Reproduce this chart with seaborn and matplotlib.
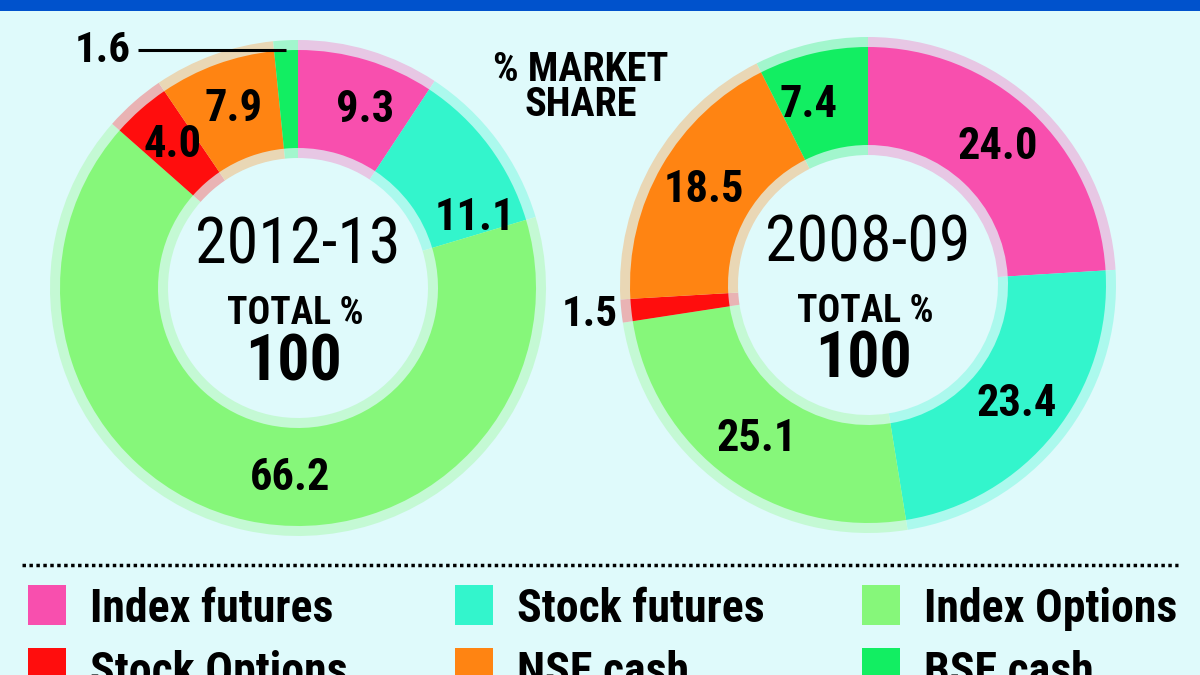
import numpy as np
import matplotlib
matplotlib.use('Agg')
import matplotlib.pyplot as plt
import seaborn as sns
from matplotlib.colors import to_rgb
from matplotlib.patches import Rectangle

# Market share data (%)
segments = ['Index futures', 'Stock futures', 'Index Options',
            'Stock Options', 'NSE cash', 'BSE cash']
share_2012 = [9.3, 11.1, 66.2, 4.0, 7.9, 1.6]
share_2008 = [24.0, 23.4, 25.1, 1.5, 18.5, 7.4]
years = ['2012-13', '2008-09']
seg_colors = ['#f84fae', '#33f5cc', '#86f77a', '#ff0d0d', '#ff8412', '#12ee62']
bg = '#dffafb'

sns.set_theme(style='white')
plt.rcParams['font.family'] = ['Roboto Condensed', 'DejaVu Sans']
palette = sns.color_palette(seg_colors)


def pale(c, a=0.3):
    c = np.array(to_rgb(c))
    b = np.array(to_rgb(bg))
    return tuple(b + (c - b) * a)


def Y(y):
    # pixel row (from top) -> axis y
    return 675 - y


fig = plt.figure(figsize=(12, 6.75), dpi=100, facecolor=bg)
ax = fig.add_axes([0, 0, 1, 1])
ax.set_facecolor(bg)

R_OUT, R_COL, R_IN, R_HOLE = 248, 238, 140, 130
R_LAB = 190


def donut(cx, cy, values, year, nudges, small):
    # pale outer/inner rims, then the coloured ring on top
    ax.pie(values, colors=[pale(c) for c in palette], radius=R_OUT,
           center=(cx, cy), startangle=90, counterclock=False,
           wedgeprops=dict(width=R_OUT - R_HOLE, linewidth=0))
    ax.pie(values, colors=palette, radius=R_COL, center=(cx, cy),
           startangle=90, counterclock=False,
           wedgeprops=dict(width=R_COL - R_IN, linewidth=0))

    vals = np.array(values)
    frac = vals / vals.sum()
    ends = 90 - 360 * np.cumsum(frac)
    mids = ends + 180 * frac
    for i, v in enumerate(values):
        a = np.deg2rad(mids[i] + nudges[i])
        txt = f'{v:.1f}'
        if i == small[0]:
            ex = cx + R_COL * np.cos(a)
            ey = cy + R_COL * np.sin(a)
            if small[1] == 'line':
                ax.plot([138, ex], [ey, ey], color='black', lw=2.2,
                        solid_capstyle='butt')
                ax.text(103, ey, txt, ha='center', va='center',
                        fontsize=31, fontweight='bold', color='black')
            else:
                ax.text(ex - 42, ey - 4, txt, ha='center', va='center',
                        fontsize=31, fontweight='bold', color='black')
            continue
        ax.text(cx + R_LAB * np.cos(a), cy + R_LAB * np.sin(a), txt,
                ha='center', va='center', fontsize=32, fontweight='bold',
                color='black')

    ax.text(cx, cy + 42, year, ha='center', va='center', fontsize=46,
            color='black')
    ax.text(cx - 3, cy - 26, 'TOTAL %', ha='center', va='center',
            fontsize=27, fontweight='bold', color='black')
    ax.text(cx - 4, cy - 75, '100', ha='center', va='center',
            fontsize=46, fontweight='heavy', color='black')


donut(298, Y(288), share_2012, years[0], [-4, -15, 10, 0, 0, 0], (5, 'line'))
donut(868, Y(285), share_2008, years[1], [0, 0, 0, 0, 0, 5], (3, 'text'))

ax.text(581, Y(70), '% MARKET', ha='center', va='center', fontsize=29,
        fontweight='bold', color='black')
ax.text(581, Y(105), 'SHARE', ha='center', va='center', fontsize=29,
        fontweight='bold', color='black')

# top banner
ax.add_patch(Rectangle((0, Y(11)), 1200, 11, color='#0052cc', lw=0))

# dotted separator
ax.plot([22, 1178], [Y(565), Y(565)], color='black', lw=2.5,
        linestyle=(0, (1, 1)))

# legend
col_x = [28, 455, 862]
row_y = [585, 648]
for i, name in enumerate(segments):
    x = col_x[i % 3]
    y = row_y[i // 3]
    ax.add_patch(Rectangle((x, Y(y + 40)), 38, 40, color=palette[i], lw=0))
    ax.text(x + 62, Y(y + 37), name, ha='left', va='baseline', fontsize=33,
            fontweight='bold', color='black')

ax.set_xlim(0, 1200)
ax.set_ylim(0, 675)
ax.set_aspect('auto')
ax.axis('off')

fig.savefig('out.png', dpi=100, facecolor=bg)
